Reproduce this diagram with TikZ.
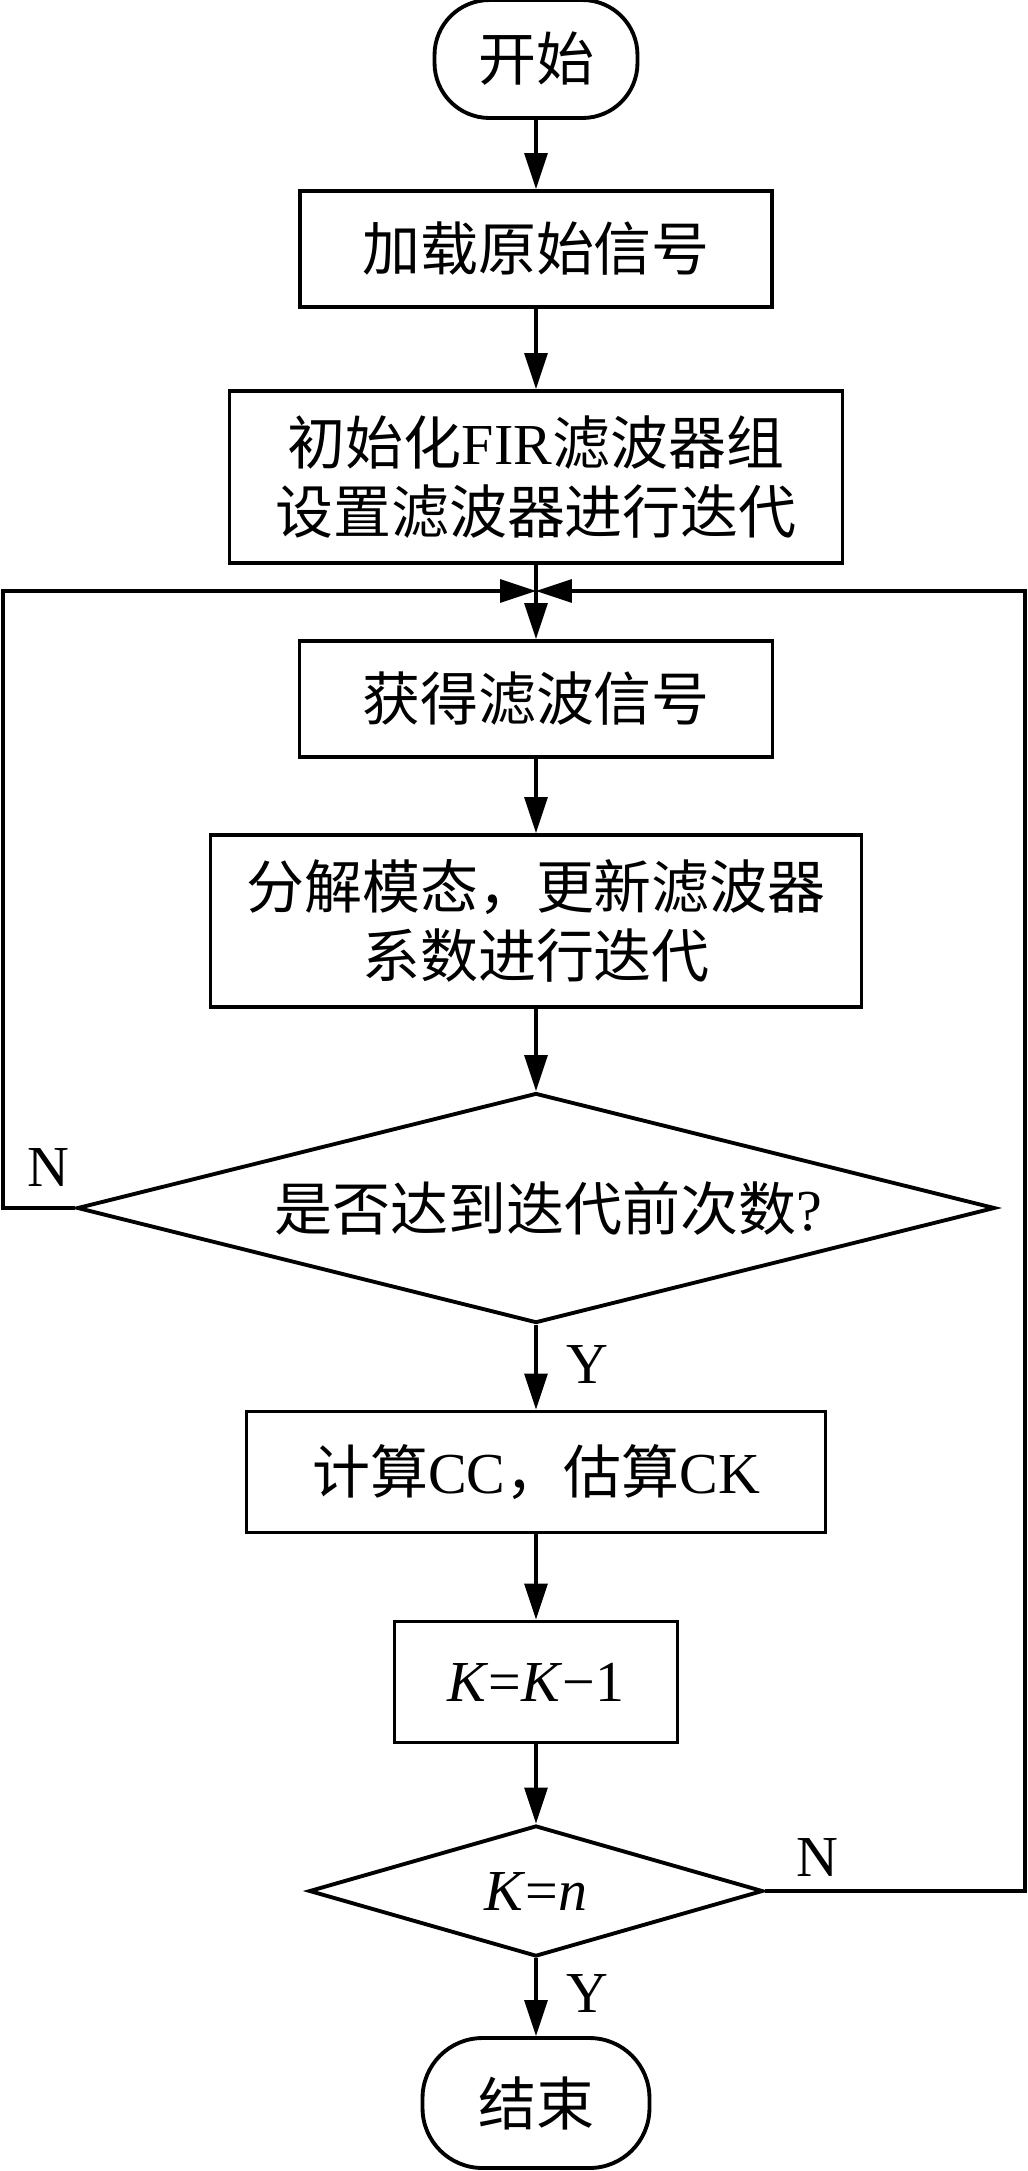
\documentclass[tikz,border=0pt]{standalone}
\usepackage{fontspec}
\setmainfont{Liberation Serif}
\newfontfamily\cjk{Noto Sans CJK SC}
\usetikzlibrary{shapes.geometric,arrows.meta}
\newcommand{\zh}[1]{{\cjk #1}}
\tikzset{
    boite/.style={draw, line width=2.2pt, inner sep=0pt, align=center},
    debfin/.style={boite, rounded corners=1.1cm},
    choix/.style={draw, line width=2.2pt, diamond, inner sep=0pt},
    fl/.style={line width=1.8pt, -{Triangle[length=7.2mm,width=4.6mm]}},
  }
\begin{document}
\begin{tikzpicture}[x=0.02cm, y=-0.02cm, font=\fontsize{33}{39}\selectfont]
				  \useasboundingbox (0,0) rectangle (1028,2171);
				  %debut
				  \node[debfin, minimum width=4.06cm, minimum height=2.36cm] (deb) at (536,59) {\zh{开始}};
				  \node[boite, minimum width=9.44cm, minimum height=2.32cm] (b1) at (536,249) {\zh{加载原始信号}};
				  \node[boite, minimum width=12.26cm, minimum height=3.44cm] (b2) at (536,477) {\zh{初始化}FIR\zh{滤波器组}\\\zh{设置滤波器进行迭代}};
				  %boucle
				  \coordinate (m) at (536,591);
				  \coordinate (g) at (3,591);
				  \coordinate (d) at (1025,591);
				  \node[boite, minimum width=9.46cm, minimum height=2.32cm] (b3) at (536,699) {\zh{获得滤波信号}};
				  \node[boite, minimum width=13.02cm, minimum height=3.44cm] (b4) at (536,921) {\zh{分解模态，更新滤波器}\\\zh{系数进行迭代}};
				  \node[choix, minimum width=18.36cm, minimum height=4.6cm, aspect=4] (c1) at (536,1208) {\hspace*{0.5cm}\zh{是否达到迭代前次数}?};
				  \node[boite, minimum width=11.58cm, minimum height=2.42cm] (b5) at (536,1472) {\zh{计算}CC\zh{，估算}CK};
				  \node[boite, minimum width=5.66cm, minimum height=2.42cm] (b6) at (536,1682) {\textit{K}=\textit{K}−1};
				  \node[choix, minimum width=9.08cm, minimum height=2.62cm, aspect=3.5] (c2) at (536,1891) {\textit{K}=\textit{n}};
				  %fin
				  \node[debfin, minimum width=4.54cm, minimum height=2.6cm, rounded corners=1.2cm] (fin) at (536,2103) {\zh{结束}};
				  %fleches
				  \draw[fl] (deb.south) -- (b1.north);
				  \draw[fl] (b1.south) -- (b2.north);
				  \draw[fl] (b2.south) -- (b3.north);
				  \draw[fl] (b3.south) -- (b4.north);
				  \draw[fl] (b4.south) -- (c1.north);
				  \draw[fl] (c1.south) -- (b5.north);
				  \draw[fl] (b5.south) -- (b6.north);
				  \draw[fl] (b6.south) -- (c2.north);
				  \draw[fl] (c2.south) -- (fin.north);
				  \draw[fl] (c1.west) -| (g) -- (m);
				  \draw[fl] (c2.east) -| (d) -- (m);
				  %N et Y
				  \node (n1) at (48,1168) {N};
				  \node (y1) at (587,1364) {Y};
				  \node (n2) at (817,1857) {N};
				  \node (y2) at (587,1993) {Y};
				  \end{tikzpicture}
\end{document}
